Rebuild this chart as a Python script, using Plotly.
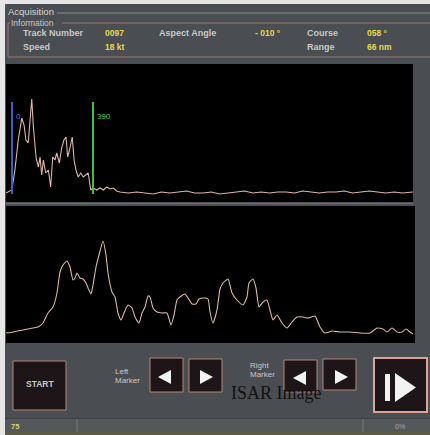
import plotly.graph_objects as go

# ---------------- data ----------------
# top panel: range profile (sample index, amplitude)
top_samples = [-29, -1, 14, 30, 47, 58, 67, 78, 95, 103, 116, 127, 135, 143, 151, 162, 175, 186,
               196, 207, 215, 228, 239, 250, 260, 268, 279, 290, 299, 308, 319, 331, 343, 356,
               367, 379, 391, 408, 424, 440, 456, 472, 488, 504,
               520, 560, 600, 640, 680, 720, 760, 800, 840, 880, 920, 960, 1000, 1040, 1080,
               1120, 1160, 1200, 1240, 1280, 1320, 1360, 1400, 1440, 1480, 1520, 1560, 1600,
               1640, 1680, 1720, 1760, 1800, 1840, 1880, 1931]
top_amp = [9, 12, 32, 62, 84, 77, 62, 59, 103, 75, 44, 35, 45, 27, 42, 29, 32, 15,
           45, 42, 49, 39, 54, 62, 65, 45, 54, 65, 42, 32, 25, 29, 25, 27,
           29, 12, 14, 12, 14, 12, 15, 13, 14, 11,
           10, 9, 10, 9, 8, 10, 9, 10, 11, 9, 9, 10, 8, 9, 10, 11, 9, 10, 9, 10,
           10, 9, 11, 10, 9, 10, 10, 11, 9, 10, 11, 10, 9, 10, 9, 10]

left_marker = 0
right_marker = 390
marker_span = [8, 100]

# bottom panel: cross-range profile (bin, amplitude)
bottom_bins = [0, 7, 17, 27, 32, 37, 42, 47, 51, 54, 57, 61, 64, 67, 69, 71, 74, 77, 80, 82,
               85, 87, 90, 93, 97, 100, 102, 106, 109, 112, 115, 118, 122, 126, 129, 133, 136,
               139, 142, 144, 147, 151, 156, 161, 165, 168, 171, 174, 179, 182, 186, 190, 193,
               198, 202, 204, 207, 211, 214, 217, 222, 226, 231, 237, 241, 243, 247, 250, 253,
               257, 261, 264, 267, 271, 276, 281, 286, 291, 297, 302, 309, 314, 319, 326, 334,
               344, 354, 364, 371, 377, 381, 386, 391, 396, 400, 404, 407]
bottom_amp = [10, 11, 13, 15, 16, 20, 30, 36, 50, 71, 78, 82, 76, 63, 65, 70, 65, 64, 60, 55,
              49, 58, 76, 88, 102, 88, 70, 51, 46, 30, 23, 30, 38, 35, 26, 20, 30,
              36, 47, 46, 35, 31, 30, 30, 18, 28, 43, 46, 49, 45, 39, 39, 44,
              45, 44, 31, 20, 33, 54, 60, 64, 50, 43, 38, 46, 60, 64, 55, 36,
              41, 43, 33, 23, 28, 20, 15, 21, 26, 26, 25, 27, 16, 10, 12, 11,
              11, 10, 10, 15, 14, 11, 15, 11, 11, 14, 11, 9]

info_labels = ["Track Number", "Aspect Angle", "Course", "Speed", "Range"]
info_values = ["0097", "- 010 °", "058 °", "18 kt", "66 nm"]

# ---------------- helpers ----------------
W, H = 430, 435
def X(p): return p / W
def Y(p): return 1 - p / H

BG = "#4a4d51"
TXT = "#c8c8c8"
YEL = "#e4dc4c"
FONT = "Liberation Sans, Arial, sans-serif"
TRACE = "#dcb6a6"

fig = go.Figure()
fig.add_trace(go.Scatter(x=top_samples, y=top_amp, mode="lines", xaxis="x", yaxis="y",
                         line=dict(color=TRACE, width=1.1), hoverinfo="skip"))
fig.add_trace(go.Scatter(x=[left_marker, left_marker], y=marker_span, mode="lines",
                         xaxis="x", yaxis="y", line=dict(color="#3d5cc4", width=2)))
fig.add_trace(go.Scatter(x=[right_marker, right_marker], y=marker_span, mode="lines",
                         xaxis="x", yaxis="y", line=dict(color="#3fbf48", width=2)))
fig.add_trace(go.Scatter(x=[left_marker + 19], y=[85], mode="text", text=[str(left_marker)],
                         textposition="middle right", xaxis="x", yaxis="y",
                         textfont=dict(color="#5a74d8", size=8, family=FONT)))
fig.add_trace(go.Scatter(x=[right_marker + 19], y=[85], mode="text", text=[str(right_marker)],
                         textposition="middle right", xaxis="x", yaxis="y",
                         textfont=dict(color="#48d050", size=8, family=FONT)))
fig.add_trace(go.Scatter(x=bottom_bins, y=bottom_amp, mode="lines", xaxis="x2", yaxis="y2",
                         line=dict(color=TRACE, width=1.1, shape="spline", smoothing=0.5),
                         hoverinfo="skip"))

shapes = []
def rect(x0, y0, x1, y1, fill, line=None, lw=0, layer="below"):
    shapes.append(dict(type="rect", xref="paper", yref="paper", x0=X(x0), x1=X(x1),
                       y0=Y(y1), y1=Y(y0), fillcolor=fill, layer=layer,
                       line=dict(color=line or fill, width=lw)))
def hline(x0, x1, y, color, w=1):
    shapes.append(dict(type="line", xref="paper", yref="paper", x0=X(x0), x1=X(x1),
                       y0=Y(y), y1=Y(y), line=dict(color=color, width=w), layer="below"))
def vline(x, y0, y1, color, w=1):
    shapes.append(dict(type="line", xref="paper", yref="paper", x0=X(x), x1=X(x),
                       y0=Y(y0), y1=Y(y1), line=dict(color=color, width=w), layer="below"))
def poly(pts, color):
    d = "M " + " L ".join(f"{X(a):.5f},{Y(b):.5f}" for a, b in pts) + " Z"
    shapes.append(dict(type="path", xref="paper", yref="paper", path=d, fillcolor=color,
                       line=dict(color=color, width=0), layer="above"))

# white borders
rect(0, 0, 5, 435, "#e6e6e6")
rect(0, 0, 430, 4, "#e6e6e6")
# header lines
hline(57, 430, 13, "#8c8c8c")
hline(8, 10, 23, "#9a7a74"); hline(62, 430, 23, "#9a7a74")
vline(8, 23, 57, "#9a7a74"); hline(8, 430, 57, "#9a7a74")
# black panels
rect(6, 64, 413, 202, "#000000")
rect(6, 206, 415, 343, "#000000")
hline(6, 413, 203.5, "#6a6d70", 1.5)
# buttons
BTN = "#1d1517"; BRD = "#b8867a"
rect(13, 361, 66, 410, BTN, BRD, 1)
rect(150, 358, 183, 392, BTN, BRD, 1)
rect(189, 359, 222, 392, BTN, BRD, 1)
rect(284, 360, 317, 392, BTN, BRD, 1)
rect(323, 359, 356, 390, BTN, BRD, 1)
rect(374, 358, 427, 412, BTN, "#dca496", 2)
WH = "#f2f2f2"
poly([(158, 377), (171, 370), (171, 384)], WH)
poly([(200, 370), (213, 377), (200, 384)], WH)
poly([(293, 378), (306, 371), (306, 385)], WH)
poly([(335, 370), (348, 377), (335, 384)], WH)
rect(385, 374, 390, 401, WH, layer="above")
poly([(395, 373), (416, 387.5), (395, 402)], WH)
# status bar
rect(5, 418, 430, 435, "#55585b")
hline(5, 430, 418.5, "#3c3e41")
rect(5, 432, 430, 435, "#5c5c44")
vline(77, 419, 432, "#7a7d80")
vline(363, 419, 432, "#7a7d80")

ann = []
def text(x, y, s, color=TXT, size=9, anchor="left", family=FONT):
    ann.append(dict(x=X(x), y=Y(y), xref="paper", yref="paper", text=s, showarrow=False,
                    xanchor=anchor, yanchor="middle", font=dict(color=color, size=size, family=family)))

text(6, 11, "Acquisition", size=9.5, color="#d6d6d6")
text(9, 23, "Information", size=8.5)
lab_pos = [(21, 33), (157, 33), (305, 33), (21, 47), (305, 47)]
val_pos = [(103, 33), (253, 33), (365, 33), (103, 47), (365, 47)]
for (lx, ly), s in zip(lab_pos, info_labels):
    text(lx, ly, "<b>" + s + "</b>", size=9)
for (vx, vy), s in zip(val_pos, info_values):
    text(vx, vy, "<b>" + s + "</b>", color=YEL, size=8.5)
text(40, 384, "<b>START</b>", size=8.5, anchor="center")
text(113, 371, "Left", size=8)
text(113, 380, "Marker", size=8)
text(248, 365, "Right", size=8)
text(248, 374, "Marker", size=8)
text(276, 393, "ISAR Image", color="#111111", size=18, anchor="center",
     family="Liberation Serif, Times New Roman, serif")
text(9, 426, "<b>75</b>", color="#d8d470", size=7.5)
text(393, 426, "0%", color="#a8a8a8", size=7)

fig.update_layout(
    width=W, height=H, margin=dict(l=0, r=0, t=0, b=0),
    paper_bgcolor=BG, plot_bgcolor="rgba(0,0,0,0)", showlegend=False,
    shapes=shapes, annotations=ann,
    xaxis=dict(domain=[X(6), X(413)], range=[-29, 1931], visible=False, fixedrange=True),
    yaxis=dict(domain=[Y(202), Y(64)], range=[0, 138], visible=False, fixedrange=True),
    xaxis2=dict(domain=[X(6), X(415)], range=[0, 409], visible=False, anchor="y2"),
    yaxis2=dict(domain=[Y(343), Y(206)], range=[0, 137], visible=False, anchor="x2"),
)
fig.write_html("out.html", config={"displayModeBar": False},
               post_script="document.body.style.margin='0';document.body.style.overflow='hidden';")
